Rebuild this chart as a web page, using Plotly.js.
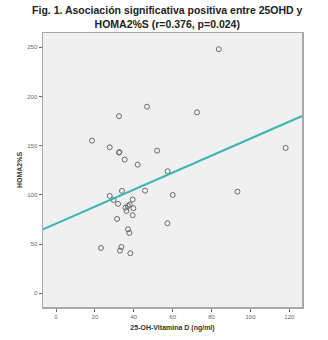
<!DOCTYPE html>
<html><head><meta charset="utf-8">
<script src="https://cdn.plot.ly/plotly-3.0.1.min.js"></script>
<style>html,body{margin:0;padding:0;background:#fff;}#chart{width:328px;height:340px;}</style>
</head><body><div id="chart"></div>
<script>
const vitD = [83.7,46.8,32.4,72.5,18.5,27.6,32.4,32.6,35.3,42.0,52.0,57.4,118.1,
  27.6,33.9,29.6,31.9,45.8,60.0,93.3,39.4,37.9,37.0,35.7,39.8,36.2,39.4,31.4,57.3,37.0,37.7,23.1,33.6,32.9,38.2];
const homa = [248,189.6,179.9,183.9,155.1,148.4,142.9,143.5,135.8,130.7,144.9,124,147.7,
  98.9,104,94.8,90.8,104.3,99.9,103.3,95.2,90.1,88.7,87,86.4,83.6,79.3,75.5,71.1,65,61.3,46,47,43.3,40.6];
const fitIntercept = 70.8;
const fitSlope = 0.864;
const xRange = [-6.7, 126.5];
const yRange = [-14, 264.5];
const xTicks = [0,20,40,60,80,100,120];
const yTicks = [0,50,100,150,200,250];

const fitX = xRange.slice();
const fitY = fitX.map(x => fitIntercept + fitSlope*x);

const data = [
  {x: vitD, y: homa, type:'scatter', mode:'markers',
   marker:{symbol:'circle-open', size:5, color:'#6a6a6a', line:{width:1, color:'#6a6a6a'}}, hoverinfo:'skip'},
  {x: fitX, y: fitY, type:'scatter', mode:'lines', line:{color:'#3db5b3', width:2}, hoverinfo:'skip'}
];
const axisCommon = {showgrid:false, zeroline:false, showline:true, mirror:true, linecolor:'#a8a8a8', linewidth:1.5,
  ticks:'outside', ticklen:3, tickcolor:'#666', tickfont:{family:'Liberation Sans, Arial', size:6, color:'#666'}};
const layout = {
  width:328, height:340,
  margin:{l:43, r:26, t:33, b:33},
  paper_bgcolor:'#ffffff', plot_bgcolor:'#f0f0f0',
  showlegend:false,
  title:{text:'<b>Fig. 1. Asociación significativa positiva entre 25OHD y<br>HOMA2%S (r=0.376, p=0.024)</b>',
    font:{family:'Liberation Sans, Arial', size:10.5, color:'#222'}, x:0.51, xanchor:'center',
    yref:'container', y:0.958, yanchor:'middle'},
  xaxis: Object.assign({}, axisCommon, {range:xRange, tickvals:xTicks,
    title:{text:'<b>25-OH-Vitamina D (ng/ml)</b>', font:{family:'Liberation Sans, Arial', size:7, color:'#333'}, standoff:6}}),
  yaxis: Object.assign({}, axisCommon, {range:yRange, tickvals:yTicks,
    title:{text:'<b>HOMA2%S</b>', font:{family:'Liberation Sans, Arial', size:7, color:'#333'}, standoff:4}})
};
Plotly.newPlot('chart', data, layout, {staticPlot:true, displayModeBar:false});
</script></body></html>
